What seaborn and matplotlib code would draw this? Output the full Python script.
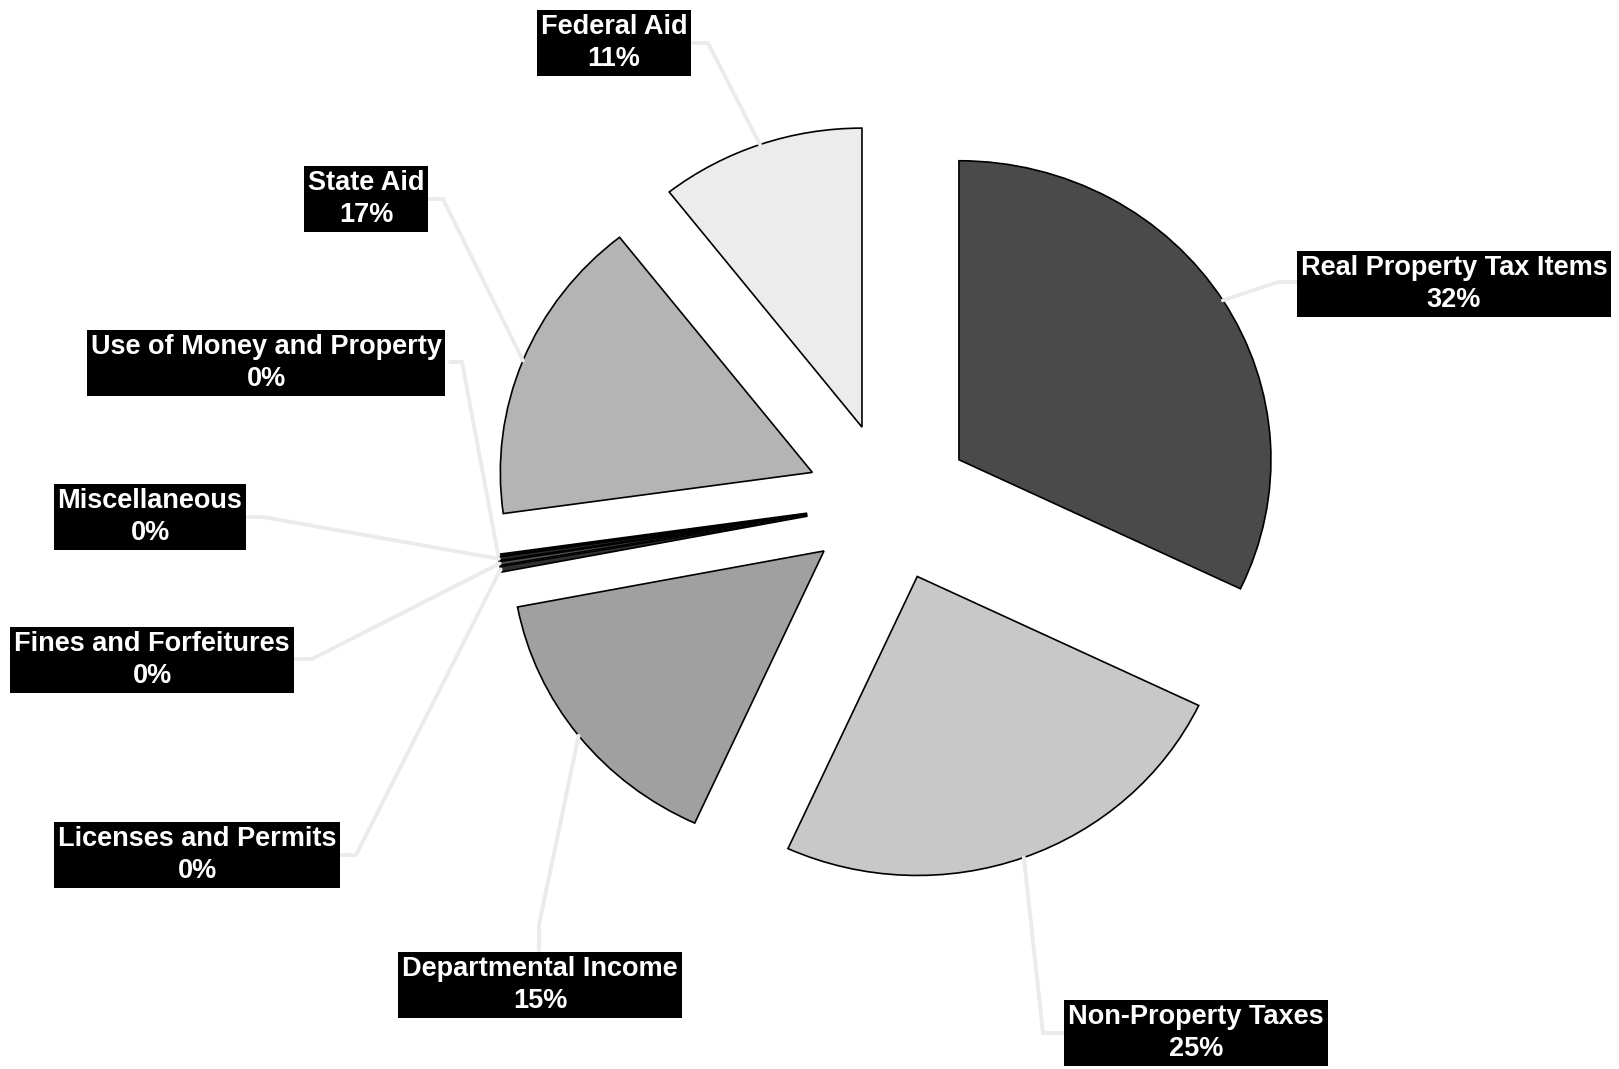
import numpy as np
import seaborn as sns
from matplotlib import pyplot as plt

# revenue shares (percent), clockwise from 12 o'clock
categories = ['Real Property Tax Items', 'Non-Property Taxes', 'Departmental Income',
              'Licenses and Permits', 'Fines and Forfeitures', 'Miscellaneous',
              'Use of Money and Property', 'State Aid', 'Federal Aid']
shares = [32.1, 24.7, 15.2, 0.3, 0.2, 0.2, 0.1, 16.6, 10.6]
greys = ['#4a4a4a', '#c8c8c8', '#a0a0a0', '#303030', '#505050', '#282828',
         '#404040', '#b4b4b4', '#ececec']

# label layout in image pixels (x right, y down): box centre, elbow, end of leader
box_xy = [(1454, 284), (1196, 1033), (540, 985), (197, 855), (152, 660),
          (150, 517), (266, 363), (366, 199), (614, 43)]
elbow_xy = [(1278, 282), (1043, 1033), (539, 925), (356, 855), (312, 659),
            (263, 517), (462, 362), (443, 199), (708, 43)]
end_xy = [(1298, 282), (1066, 1033), (539, 950), (337, 855), (295, 659),
          (248, 517), (450, 362), (428, 199), (693, 43)]

W, H = 1619, 1069
cx, cy = 889, 502      # pie centre in image pixels
rx, ry = 312, 299      # pie is slightly wider than tall

sns.set_theme(style='white')
plt.rcParams['font.family'] = ['Liberation Sans', 'DejaVu Sans']

fig = plt.figure(figsize=(W / 100, H / 100), dpi=100)
ax = fig.add_axes([0, 0, 1, 1])
ax.pie(shares, colors=greys, startangle=90, counterclock=False,
       explode=[0.265] * len(shares),
       wedgeprops=dict(edgecolor='black', linewidth=1.2))
ax.set_aspect('auto')
ax.set_xlim(-cx / rx, (W - cx) / rx)
ax.set_ylim(-(H - cy) / ry, cy / ry)
ax.axis('off')

# overlay in pixel coordinates for labels
lab = fig.add_axes([0, 0, 1, 1], facecolor='none')
lab.set_xlim(0, W)
lab.set_ylim(H, 0)
lab.axis('off')

to_lab = ax.transData + lab.transData.inverted()
for w, name, val, bxy, exy, nxy in zip(ax.patches, categories, shares, box_xy, elbow_xy, end_xy):
    th = np.deg2rad((w.theta1 + w.theta2) / 2)
    sx, sy = to_lab.transform((w.center[0] + w.r * np.cos(th), w.center[1] + w.r * np.sin(th)))
    lab.plot([sx, exy[0], nxy[0]], [sy, exy[1], nxy[1]], color='#ebebeb', lw=2.8,
             solid_joinstyle='miter', zorder=1)
    lab.text(bxy[0], bxy[1], f'{name}\n{val:.0f}%', ha='center', va='center',
             color='white', fontsize=19.5, fontweight='bold', linespacing=1.3,
             bbox=dict(boxstyle='square,pad=0.14', fc='black', ec='none'), zorder=3)

fig.savefig('out.png', dpi=100)
